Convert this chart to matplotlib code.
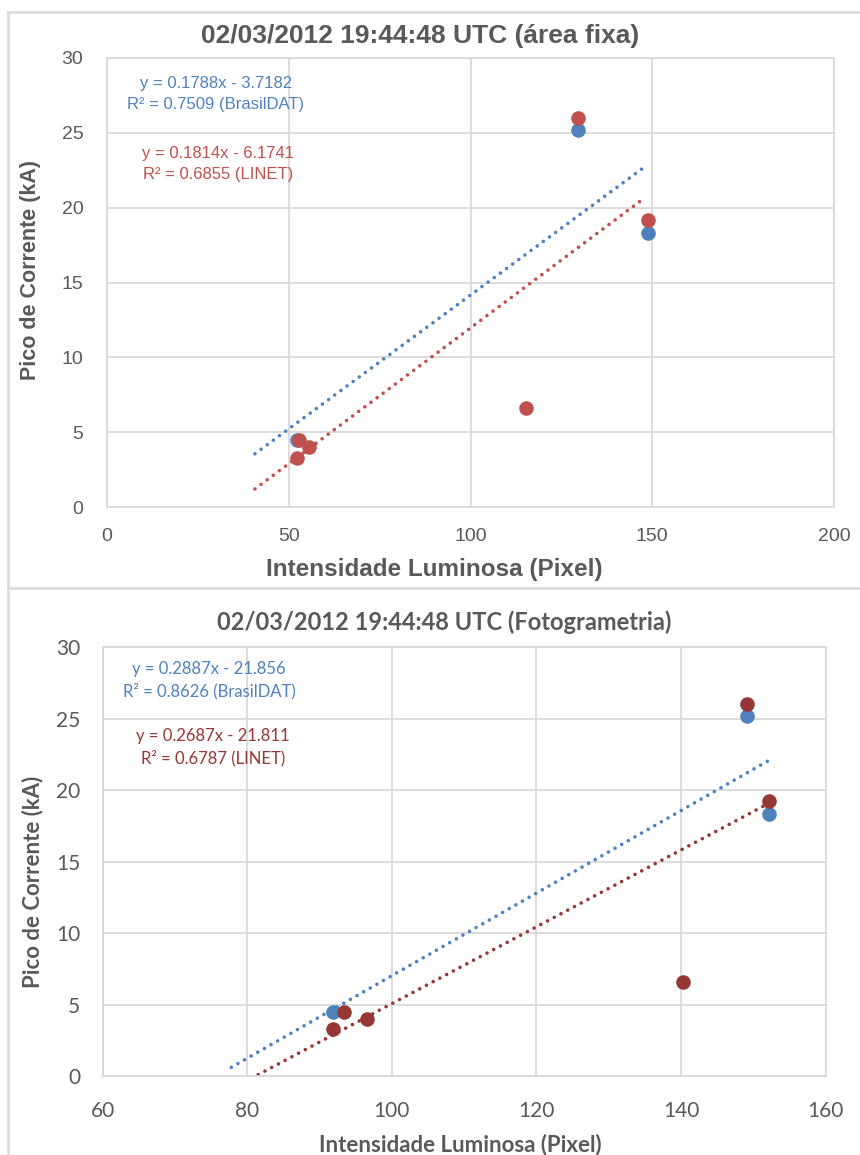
import matplotlib
matplotlib.use("Agg")
import matplotlib.pyplot as plt
import numpy as np
from matplotlib.lines import Line2D

# === DATA ===
# painel superior (área fixa)
top_bd_x = [52.3, 129.5, 148.8]
top_bd_y = [4.5, 25.2, 18.3]
top_li_x = [52.8, 52.3, 55.6, 115.2, 129.5, 148.8]
top_li_y = [4.5, 3.3, 4.0, 6.6, 26.0, 19.2]
top_bd_fit = (0.1788, -3.7182)
top_li_fit = (0.1814, -6.1741)
top_fit_range = [40.7, 148.0]
top_bd_label = "y = 0.1788x - 3.7182\nR² = 0.7509 (BrasilDAT)"
top_li_label = "y = 0.1814x - 6.1741\nR² = 0.6855 (LINET)"
top_xticks = [0, 50, 100, 150, 200]

# painel inferior (fotogrametria)
bot_bd_x = [91.9, 149.1, 152.2]
bot_bd_y = [4.5, 25.2, 18.3]
bot_li_x = [93.4, 91.9, 96.6, 140.3, 149.1, 152.2]
bot_li_y = [4.5, 3.3, 4.0, 6.6, 26.0, 19.2]
bot_bd_fit = (0.2887, -21.856)
bot_li_fit = (0.2687, -21.811)
bot_fit_range = [77.8, 152.2]
bot_bd_label = "y = 0.2887x - 21.856\nR² = 0.8626 (BrasilDAT)"
bot_li_label = "y = 0.2687x - 21.811\nR² = 0.6787 (LINET)"
bot_xticks = [60, 80, 100, 120, 140, 160]

yticks = [0, 5, 10, 15, 20, 25, 30]

# === STYLE ===
BLUE = "#4F81BD"
RED_TOP = "#C0504D"
RED_BOT = "#953735"
GRID = "#D9D9D9"
TXT = "#595959"
ARIAL = ["Liberation Sans", "DejaVu Sans"]
LATO = ["Lato", "DejaVu Sans"]

fig = plt.figure(figsize=(8.6, 11.55), dpi=100)


def panel(ax, bd_x, bd_y, li_x, li_y, bd_fit, li_fit, fit_range, xticks,
          red, font, tsize, bd_label, li_label, bd_pos, li_pos, xpad, ypad):
    ax.set_xlim(xticks[0], xticks[-1])
    ax.set_ylim(0, 30)
    ax.set_xticks(xticks)
    ax.set_yticks(yticks)
    ax.grid(True, color=GRID, lw=1.3)
    ax.set_axisbelow(True)
    for s in ax.spines.values():
        s.set_color(GRID)
        s.set_linewidth(1.3)
    ax.tick_params(length=0, labelsize=tsize, colors=TXT)
    ax.tick_params(axis="x", pad=xpad)
    ax.tick_params(axis="y", pad=ypad)
    for lab in ax.get_xticklabels() + ax.get_yticklabels():
        lab.set_family(font)

    fx = np.array(fit_range)
    for (m, b), c in ((bd_fit, BLUE), (li_fit, red)):
        ln = Line2D(fx, m * fx + b, color=c, lw=2.6, linestyle=(0, (0.01, 2.1)),
                    dash_capstyle="round", zorder=2)
        ax.add_line(ln)

    ax.scatter(bd_x, bd_y, s=110, color=BLUE, zorder=3, linewidths=0)
    ax.scatter(li_x, li_y, s=110, color=red, zorder=4, linewidths=0)

    ax.text(bd_pos[0], bd_pos[1], bd_label, transform=ax.transAxes, ha="center",
            va="center", color=BLUE, fontsize=12, family=font, linespacing=1.45)
    ax.text(li_pos[0], li_pos[1], li_label, transform=ax.transAxes, ha="center",
            va="center", color=red, fontsize=12, family=font, linespacing=1.45)


ax1 = fig.add_axes([0.1244, 0.5610, 0.8454, 0.3888])
panel(ax1, top_bd_x, top_bd_y, top_li_x, top_li_y, top_bd_fit, top_li_fit,
      top_fit_range, top_xticks, RED_TOP, ARIAL, 14, top_bd_label, top_li_label,
      (0.15, 0.92), (0.153, 0.764), 15, 17)

ax2 = fig.add_axes([0.1193, 0.0684, 0.8407, 0.3714])
panel(ax2, bot_bd_x, bot_bd_y, bot_li_x, bot_li_y, bot_bd_fit, bot_li_fit,
      bot_fit_range, bot_xticks, RED_BOT, LATO, 15, bot_bd_label, bot_li_label,
      (0.147, 0.923), (0.153, 0.767), 18, 16)

# titulos e rotulos
fig.text(0.488, 0.969, "02/03/2012 19:44:48 UTC (área fixa)", ha="center", va="center",
         fontsize=19, weight="bold", color=TXT, family=ARIAL)
fig.text(0.505, 0.507, "Intensidade Luminosa (Pixel)", ha="center", va="center",
         fontsize=17.5, weight="bold", color=TXT, family=ARIAL)
fig.text(0.035, 0.766, "Pico de Corrente (kA)", ha="center", va="center", rotation=90,
         fontsize=15.5, weight="bold", color=TXT, family=ARIAL)

fig.text(0.517, 0.4615, "02/03/2012 19:44:48 UTC (Fotogrametria)", ha="center", va="center",
         fontsize=17, weight="bold", color=TXT, family=LATO)
fig.text(0.535, 0.0087, "Intensidade Luminosa (Pixel)", ha="center", va="center",
         fontsize=16, weight="bold", color=TXT, family=LATO)
fig.text(0.038, 0.2364, "Pico de Corrente (kA)", ha="center", va="center", rotation=90,
         fontsize=16, weight="bold", color=TXT, family=LATO)

# molduras dos graficos
W, H = 860, 1155
frame = [([8 / W, 8 / W], [0, 1 - 12 / H]),
         ([8 / W, 1], [1 - 12 / H, 1 - 12 / H]),
         ([8 / W, 1], [1 - 588 / H, 1 - 588 / H])]
for xs, ys in frame:
    fig.add_artist(Line2D(xs, ys, transform=fig.transFigure, color=GRID, lw=1.8))

fig.savefig("out.png", dpi=100)
